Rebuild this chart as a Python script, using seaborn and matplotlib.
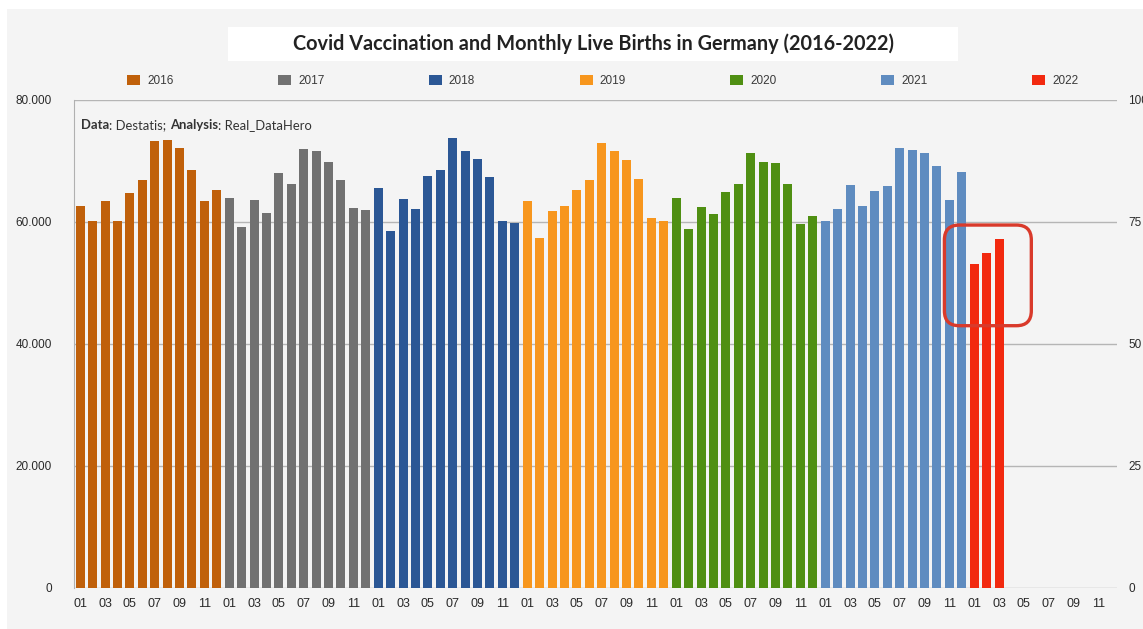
import numpy as np
import pandas as pd
import matplotlib
matplotlib.use("Agg")
import matplotlib.pyplot as plt
import seaborn as sns
from matplotlib.patches import Patch, Rectangle, FancyBboxPatch
from matplotlib.offsetbox import TextArea, HPacker, AnchoredOffsetbox

# ---------------- data ----------------
years = ["2016", "2017", "2018", "2019", "2020", "2021", "2022"]
months = ["01", "02", "03", "04", "05", "06", "07", "08", "09", "10", "11", "12"]

births_2016 = [62600, 60100, 63400, 60100, 64700, 66900, 73200, 73400, 72200, 68600, 63400, 65200]
births_2017 = [64000, 59100, 63600, 61400, 68100, 66300, 72000, 71700, 69800, 66900, 62300, 62000]
births_2018 = [65600, 58500, 63800, 62200, 67500, 68500, 73700, 71700, 70300, 67300, 60200, 59900]
births_2019 = [63400, 57300, 61800, 62700, 65200, 66900, 72900, 71700, 70200, 67000, 60700, 60200]
births_2020 = [63900, 58800, 62400, 61300, 64900, 66300, 71300, 69900, 69600, 66200, 59600, 61000]
births_2021 = [60100, 62100, 66100, 62700, 65100, 65900, 72100, 71800, 71300, 69200, 63600, 68200]
births_2022 = [53100, 54900, 57200]

colors = ["#c0600a", "#717171", "#2b5795", "#f7961d", "#4f8f12", "#5f8cc0", "#f2290f"]

title = "Covid Vaccination and Monthly Live Births in Germany (2016-2022)"
left_ticks = [0, 20000, 40000, 60000, 80000]
left_labels = ["0", "20.000", "40.000", "60.000", "80.000"]
right_ticks = [0, 25, 50, 75, 100]

series = [births_2016, births_2017, births_2018, births_2019,
          births_2020, births_2021, births_2022]

rows = []
for yr, vals in zip(years, series):
    for m, v in zip(months, vals):
        rows.append({"slot": f"{yr}-{m}", "year": yr, "births": v})
df = pd.DataFrame(rows)
order = [f"{yr}-{m}" for yr in years for m in months]

# ---------------- figure ----------------
W, H = 1143, 629
bg = "#f4f4f4"
fig = plt.figure(figsize=(W / 100, H / 100), dpi=100, facecolor="white")
fig.patches.append(Rectangle((7 / W, 0), 1, 1 - 9 / H, transform=fig.transFigure,
                             facecolor=bg, edgecolor="none", zorder=-10))

ax = fig.add_axes([74 / W, 41 / H, (1117 - 74) / W, (588 - 100) / H])
ax.set_facecolor(bg)

sns.barplot(data=df, x="slot", y="births", hue="year", order=order,
            hue_order=years, palette=colors, dodge=False, width=0.72,
            legend=False, ax=ax, saturation=1, edgecolor="none")

ax.set_xlim(-0.5, len(order) - 0.5)
ax.set_ylim(0, 80000)
ax.set_yticks(left_ticks)
ax.set_yticklabels(left_labels)
ax.set_xticks(range(len(order)))
ax.set_xticklabels([s[-2:] if int(s[-2:]) % 2 == 1 else "" for s in order])
ax.tick_params(axis="x", length=0, pad=7, labelsize=9, labelcolor="#2a2a2a")
ax.tick_params(axis="y", length=0, pad=16, labelsize=8.5, labelcolor="#2a2a2a")
ax.set_xlabel("")
ax.set_ylabel("")
for s in ["top", "right", "bottom"]:
    ax.spines[s].set_visible(False)
ax.spines["left"].set_color("#b0b0b0")
ax.grid(axis="y", color="#b5b5b5", linewidth=1)
ax.grid(axis="x", visible=False)
ax.set_axisbelow(True)
for lbl in ax.get_xticklabels() + ax.get_yticklabels():
    lbl.set_fontfamily("Liberation Sans")

ax2 = ax.twinx()
ax2.set_ylim(0, 100)
ax2.set_yticks(right_ticks)
ax2.set_yticklabels([str(t) for t in right_ticks])
ax2.tick_params(axis="y", length=0, pad=8, labelsize=8.5, labelcolor="#2a2a2a")
for s in ax2.spines.values():
    s.set_visible(False)
for lbl in ax2.get_yticklabels():
    lbl.set_fontfamily("Liberation Sans")

# highlight box around 2022 bars
first22 = order.index("2022-01")
last22 = order.index("2022-03")
x0, x1 = first22 - 2.4, last22 + 2.6
y0, y1 = 43000, 59500
ax_w_px = (1117 - 74)
ax_h_px = (588 - 100)
aspect = (80000 / ax_h_px) / (len(order) / ax_w_px)
box = FancyBboxPatch((x0, y0), x1 - x0, y1 - y0,
                     boxstyle="round,pad=0,rounding_size=1.2",
                     mutation_aspect=aspect, facecolor="none",
                     edgecolor="#d93a2b", linewidth=2.4, zorder=5)
ax.add_patch(box)

# source note with mixed weights
parts = [("Data", "bold"), (": Destatis; ", "normal"),
         ("Analysis", "bold"), (": Real_DataHero", "normal")]
areas = [TextArea(t, textprops=dict(fontsize=9.4, fontweight=w, color="#333333",
                                    family="Lato")) for t, w in parts]
pack = HPacker(children=areas, pad=0, sep=0, align="baseline")
anch = AnchoredOffsetbox(loc="upper left", child=pack, frameon=False,
                         bbox_to_anchor=(81 / W, 1 - 119 / H),
                         bbox_transform=fig.transFigure, pad=0, borderpad=0)
ax.add_artist(anch)

# title in white box
fig.patches.append(Rectangle((228 / W, 1 - 61 / H), (958 - 228) / W, 34 / H,
                             transform=fig.transFigure, facecolor="white",
                             edgecolor="none", zorder=-5))
fig.text(593 / W, 1 - 44 / H, title, ha="center", va="center",
         fontsize=14.3, fontweight="bold", family="Lato", color="#222222")

# legend
handles = [Patch(facecolor=c, edgecolor="none", label=y) for y, c in zip(years, colors)]
leg = fig.legend(handles=handles, ncol=7, loc="center left",
                 bbox_to_anchor=(127 / W, 1 - 81 / H), frameon=False,
                 prop={"family": "Liberation Sans", "size": 8.5},
                 handlelength=1.1, handleheight=0.9,
                 handletextpad=0.6, columnspacing=8.85, borderaxespad=0,
                 borderpad=0)
for t in leg.get_texts():
    t.set_color("#3a3a3a")

fig.savefig("out.png", dpi=100, facecolor=fig.get_facecolor())
